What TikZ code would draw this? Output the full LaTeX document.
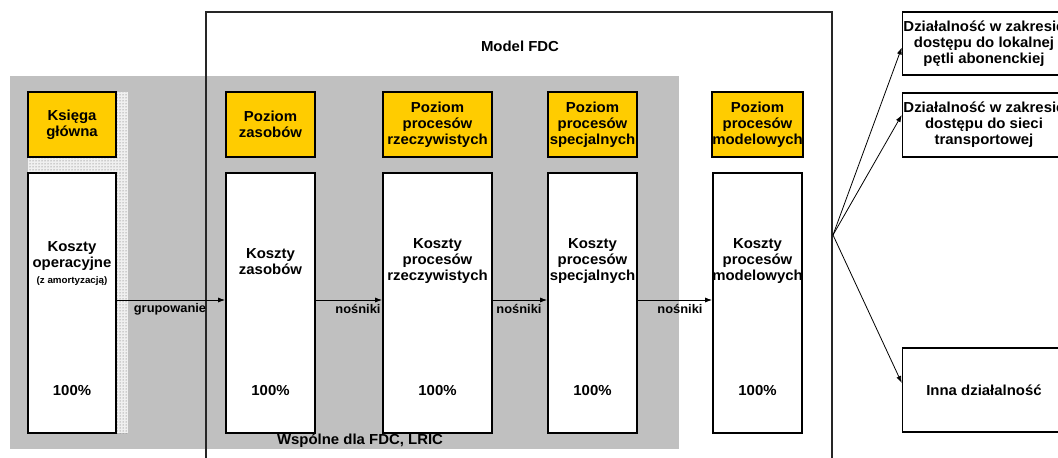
\documentclass[tikz,border=0pt]{standalone}
\usepackage{fontspec}
\setmainfont[FakeStretch=1.03]{Liberation Sans}
\usetikzlibrary{patterns,arrows.meta}
\definecolor{yellowfill}{HTML}{FFCC00}
\definecolor{bggray}{HTML}{C0C0C0}
\begin{document}
\begin{tikzpicture}[x=1pt,y=-1pt,
  mainfont/.style={font=\fontsize{14.5}{16}\selectfont\bfseries},
  ybox/.style={draw=black, line width=1.8pt, fill=yellowfill, minimum height=65pt, align=center, inner sep=0pt, mainfont},
  wbox/.style={draw=black, line width=1.8pt, fill=white, minimum height=260pt, inner sep=0pt},
  txt/.style={align=center, inner sep=0pt, mainfont},
  lbl/.style={inner sep=0pt, font=\fontsize{12.5}{14}\selectfont\bfseries},
  rbox/.style={draw=black, line width=1.5pt, fill=white, minimum width=163pt, align=center, inner sep=0pt, mainfont},
  arr/.style={-{Latex[length=7pt,width=5pt]}, line width=0.8pt},
  dotstrip/.style={pattern=dots, pattern color=black!65}
]
\useasboundingbox (0,0) rectangle (1058,458);
\clip (0,0) rectangle (1058,458);
\fill[white] (0,0) rectangle (1058,458);
% shared background
\fill[bggray] (10,76) rectangle (679,449);
% Model FDC frame
\draw[line width=1.5pt, black!85] (206,470) -- (206,12) -- (832,12) -- (832,470);
\node[txt] (fdc) at (520,46) {Model FDC};
% dotted strips
\fill[gray!12] (116,92) rectangle (128,433);
\fill[dotstrip] (116,92) rectangle (128,433);
\fill[gray!12] (28,157) rectangle (128,173);
\fill[dotstrip] (28,157) rectangle (128,173);
% yellow header boxes
\node[ybox, minimum width=88pt] (y1) at (72,124.5) {Księga\\główna};
\node[ybox, minimum width=89pt] (y2) at (270.5,124.5) {Poziom\\zasobów};
\node[ybox, minimum width=109pt] (y3) at (437.5,124.5) {Poziom\\procesów\\rzeczywistych};
\node[ybox, minimum width=89pt] (y4) at (592.5,124.5) {Poziom\\procesów\\specjalnych};
\node[ybox, minimum width=89pt] (y5) at (757.5,124.5) {Poziom\\procesów\\modelowych};
% white cost boxes
\node[wbox, minimum width=88pt] (w1) at (72,303) {};
\node[wbox, minimum width=89pt] (w2) at (270.5,303) {};
\node[wbox, minimum width=109pt] (w3) at (437.5,303) {};
\node[wbox, minimum width=89pt] (w4) at (592.5,303) {};
\node[wbox, minimum width=89pt] (w5) at (757.5,303) {};
% texts in cost boxes
\node[txt] (t1) at (72,263) {Koszty\\operacyjne\\{\fontsize{9.5}{12}\selectfont (z amortyzacją)}};
\node[txt] (t2) at (270.5,262) {Koszty\\zasobów};
\node[txt] (t3) at (437.5,261) {Koszty\\procesów\\rzeczywistych};
\node[txt] (t4) at (592.5,261) {Koszty\\procesów\\specjalnych};
\node[txt] (t5) at (757.5,261) {Koszty\\procesów\\modelowych};
\node[txt] (p1) at (72,391) {100\%};
\node[txt] (p2) at (270.5,391) {100\%};
\node[txt] (p3) at (437.5,391) {100\%};
\node[txt] (p4) at (592.5,391) {100\%};
\node[txt] (p5) at (757.5,391) {100\%};
% flow arrows
\draw[arr] ([yshift=3pt]w1.east) -- ([yshift=3pt]w2.west);
\draw[arr] ([yshift=3pt]w2.east) -- ([yshift=3pt]w3.west);
\draw[arr] ([yshift=3pt]w3.east) -- ([yshift=3pt]w4.west);
\draw[arr] ([yshift=3pt]w4.east) -- ([yshift=3pt]w5.west);
\node[lbl] (g) at (170,309) {grupowanie};
\node[lbl] (n1) at (358,309) {nośniki};
\node[lbl] (n2) at (519,309) {nośniki};
\node[lbl] (n3) at (680,309) {nośniki};
\node[txt] (wsp) at (360,441) {Wspólne dla FDC, LRIC};
% right-hand activity boxes
\node[rbox, minimum height=63pt] (b1) at (984,43.5) {Działalność w zakresie\\dostępu do lokalnej\\pętli abonenckiej};
\node[rbox, minimum height=64pt] (b2) at (984,125) {Działalność w zakresie\\dostępu do sieci\\transportowej};
\node[rbox, minimum height=84pt] (b3) at (984,390) {Inna działalność};
\coordinate (fan) at (833,235);
\draw[arr] (fan) -- ([yshift=-4pt]b1.west);
\draw[arr] (fan) -- ([yshift=10pt]b2.west);
\draw[arr] (fan) -- ([yshift=7pt]b3.west);
\end{tikzpicture}
\end{document}
